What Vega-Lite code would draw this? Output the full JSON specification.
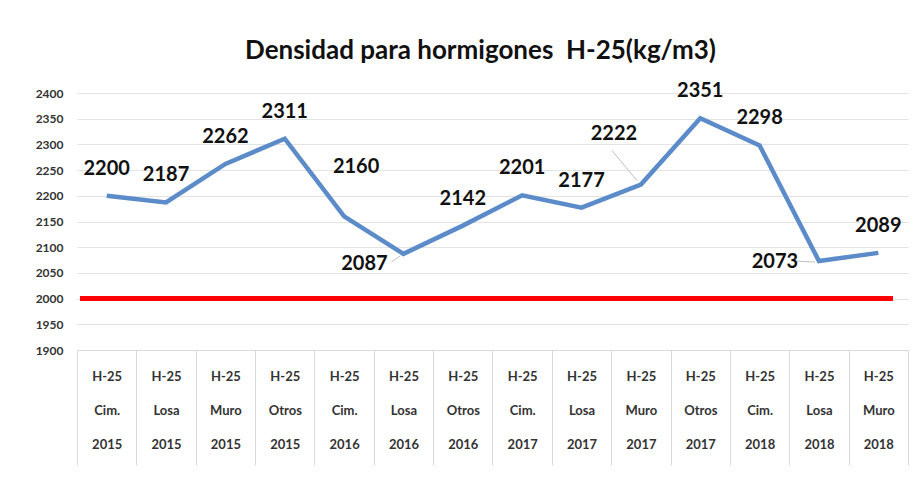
{
  "$schema": "https://vega.github.io/schema/vega-lite/v6.json",
  "autosize": "none",
  "width": 831,
  "height": 257,
  "padding": {"left": 77, "top": 93, "right": 15, "bottom": 127},
  "background": "white",
  "config": {"view": {"stroke": null}, "font": "Lato"},
  "title": {
    "text": "Densidad para hormigones \u00a0H-25(kg/m3)",
    "fontSize": 26,
    "fontWeight": "bold",
    "font": "Lato",
    "color": "#111111",
    "anchor": "middle",
    "dx": -12,
    "offset": 17
  },
  "data": {
    "values": [
      {"cat": "H-25|Cim.|2015", "v": 2200},
      {"cat": "H-25|Losa|2015", "v": 2187},
      {"cat": "H-25|Muro|2015", "v": 2262},
      {"cat": "H-25|Otros|2015", "v": 2311},
      {"cat": "H-25|Cim.|2016", "v": 2160},
      {"cat": "H-25|Losa|2016", "v": 2087},
      {"cat": "H-25|Otros|2016", "v": 2142},
      {"cat": "H-25|Cim.|2017", "v": 2201},
      {"cat": "H-25|Losa|2017", "v": 2177},
      {"cat": "H-25|Muro|2017", "v": 2222},
      {"cat": "H-25|Otros|2017", "v": 2351},
      {"cat": "H-25|Cim.|2018", "v": 2298},
      {"cat": "H-25|Losa|2018", "v": 2073},
      {"cat": "H-25|Muro|2018", "v": 2089}
    ]
  },
  "encoding": {
    "x": {
      "field": "cat",
      "type": "nominal",
      "scale": {
        "domain": ["H-25|Cim.|2015", "H-25|Losa|2015", "H-25|Muro|2015", "H-25|Otros|2015", "H-25|Cim.|2016", "H-25|Losa|2016", "H-25|Otros|2016", "H-25|Cim.|2017", "H-25|Losa|2017", "H-25|Muro|2017", "H-25|Otros|2017", "H-25|Cim.|2018", "H-25|Losa|2018", "H-25|Muro|2018"],
        "paddingInner": 0,
        "paddingOuter": 0
      },
      "axis": {
        "title": null,
        "labelAngle": 0,
        "labelExpr": "split(datum.label, '|')",
        "labelFont": "Lato",
        "labelFontSize": 13,
        "labelFontWeight": "bold",
        "labelColor": "#333333",
        "labelLineHeight": 34,
        "labelBaseline": "top",
        "labelPadding": -95,
        "tickBand": "extent",
        "tickSize": 115,
        "tickColor": "#d9d9d9",
        "domainColor": "#d9d9d9",
        "grid": false
      }
    },
    "y": {
      "field": "v",
      "type": "quantitative",
      "scale": {"domain": [1900, 2400], "nice": false, "zero": false},
      "axis": {
        "title": null,
        "format": "d",
        "values": [1900, 1950, 2000, 2050, 2100, 2150, 2200, 2250, 2300, 2350, 2400],
        "labelFont": "Lato",
        "labelFontSize": 12,
        "labelFontWeight": "bold",
        "labelColor": "#333333",
        "labelPadding": 14,
        "domain": false,
        "ticks": false,
        "grid": true,
        "gridColor": "#e3e3e3",
        "gridWidth": 1
      }
    }
  },
  "layer": [
    {
      "mark": {"type": "rule", "color": "#ff0000", "strokeWidth": 3.5},
      "encoding": {"x": {"value": 3}, "x2": {"value": 816}, "y": {"datum": 2000}}
    },
    {
      "transform": [{"filter": "datum.v == 2222"}],
      "mark": {"type": "rule", "color": "#bfbfbf", "strokeWidth": 1, "xOffset": -4, "yOffset": -4, "x2Offset": -29, "y2Offset": -34},
      "encoding": {"x2": {"field": "cat"}, "y2": {"field": "v"}}
    },
    {
      "transform": [{"filter": "datum.v == 2087"}],
      "mark": {"type": "rule", "color": "#bfbfbf", "strokeWidth": 1, "xOffset": -3, "yOffset": 2, "x2Offset": -12, "y2Offset": 8},
      "encoding": {"x2": {"field": "cat"}, "y2": {"field": "v"}}
    },
    {
      "transform": [{"filter": "datum.v == 2073"}],
      "mark": {"type": "rule", "color": "#bfbfbf", "strokeWidth": 1, "xOffset": -4, "yOffset": 1, "x2Offset": -24, "y2Offset": 0},
      "encoding": {"x2": {"field": "cat"}, "y2": {"field": "v"}}
    },
    {
      "mark": {"type": "line", "color": "#5b8bc9", "strokeWidth": 4.5, "strokeJoin": "miter"}
    },
    {
      "transform": [{"filter": "datum.v != 2160 && datum.v != 2087 && datum.v != 2222 && datum.v != 2073"}],
      "mark": {"type": "text", "fontSize": 20, "fontWeight": "bold", "font": "Lato", "color": "#111111", "baseline": "middle", "dy": -27},
      "encoding": {"text": {"field": "v"}}
    },
    {
      "transform": [{"filter": "datum.v == 2160"}],
      "mark": {"type": "text", "fontSize": 20, "fontWeight": "bold", "font": "Lato", "color": "#111111", "baseline": "middle", "dy": -49, "dx": 12},
      "encoding": {"text": {"field": "v"}}
    },
    {
      "transform": [{"filter": "datum.v == 2222"}],
      "mark": {"type": "text", "fontSize": 20, "fontWeight": "bold", "font": "Lato", "color": "#111111", "baseline": "middle", "dy": -50, "dx": -27},
      "encoding": {"text": {"field": "v"}}
    },
    {
      "transform": [{"filter": "datum.v == 2087"}],
      "mark": {"type": "text", "fontSize": 20, "fontWeight": "bold", "font": "Lato", "color": "#111111", "baseline": "middle", "dy": 10, "dx": -39},
      "encoding": {"text": {"field": "v"}}
    },
    {
      "transform": [{"filter": "datum.v == 2073"}],
      "mark": {"type": "text", "fontSize": 20, "fontWeight": "bold", "font": "Lato", "color": "#111111", "baseline": "middle", "dy": 1, "dx": -44},
      "encoding": {"text": {"field": "v"}}
    }
  ]
}
